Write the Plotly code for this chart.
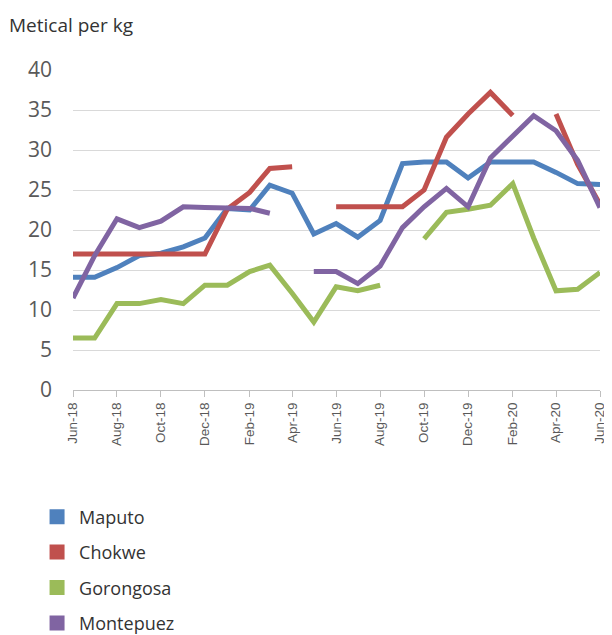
import plotly.graph_objects as go

months = [
    "2018-06-01", "2018-07-01", "2018-08-01", "2018-09-01", "2018-10-01", "2018-11-01",
    "2018-12-01", "2019-01-01", "2019-02-01", "2019-03-01", "2019-04-01", "2019-05-01",
    "2019-06-01", "2019-07-01", "2019-08-01", "2019-09-01", "2019-10-01", "2019-11-01",
    "2019-12-01", "2020-01-01", "2020-02-01", "2020-03-01", "2020-04-01", "2020-05-01",
    "2020-06-01",
]

maputo = [14.1, 14.1, 15.3, 16.8, 17.1, 17.9, 19.0, 22.7, 22.5, 25.6, 24.6, 19.5,
          20.8, 19.1, 21.2, 28.3, 28.5, 28.5, 26.5, 28.5, 28.5, 28.5, 27.2, 25.8, 25.7]
chokwe = [17.0, 17.0, 17.0, 17.0, 17.0, 17.0, 17.0, 22.6, 24.7, 27.7, 27.9, None,
          22.9, 22.9, 22.9, 22.9, 25.0, 31.6, 34.5, 37.2, 34.3, None, 34.5, 28.2, 23.2]
gorongosa = [6.5, 6.5, 10.8, 10.8, 11.3, 10.8, 13.1, 13.1, 14.8, 15.6, 12.1, 8.5,
             12.9, 12.4, 13.1, None, 18.9, 22.2, 22.6, 23.1, 25.8, 19.0, 12.4, 12.6, 14.7]
montepuez = [11.5, 16.8, 21.4, 20.3, 21.1, 22.9, 22.8, 22.8, 22.7, 22.1, None, 14.8,
             14.8, 13.3, 15.5, 20.3, 22.9, 25.2, 22.9, 29.0, 31.8, 34.3, 32.4, 28.7, 22.8]

series = [
    ("Maputo", maputo, "#4F81BD"),
    ("Chokwe", chokwe, "#C0504D"),
    ("Gorongosa", gorongosa, "#9BBB59"),
    ("Montepuez", montepuez, "#8064A2"),
]

fig = go.Figure()

# lines first, no legend entries
for name, vals, color in series:
    fig.add_trace(go.Scatter(
        x=months, y=vals, name=name, mode="lines",
        line=dict(color=color, width=5), connectgaps=False, showlegend=False,
    ))

# square legend keys like the original
for name, vals, color in series:
    fig.add_trace(go.Scatter(
        x=[None], y=[None], name=name, mode="markers", legendgroup=name,
        marker=dict(symbol="square", size=15, color=color),
    ))

# page body has an 8px margin, so the figure is a bit smaller than the window
fig.update_layout(
    width=604, height=627,
    margin=dict(l=65, r=12, t=62, b=245, autoexpand=False),
    plot_bgcolor="white", paper_bgcolor="white",
    font=dict(family="Liberation Sans, Arial, sans-serif", color="#595959"),
    legend=dict(
        x=-0.072, y=-0.339, xanchor="left", yanchor="top",
        font=dict(family="Open Sans, sans-serif", size=18, color="#333333"),
        tracegroupgap=9, itemwidth=34,
    ),
    annotations=[dict(
        text="Metical per kg", xref="paper", yref="paper",
        x=-0.125, y=1.140, xanchor="left", yanchor="middle", showarrow=False,
        font=dict(family="Open Sans, sans-serif", size=19, color="#333333"),
    )],
)

fig.update_xaxes(
    type="date", range=["2018-06-01", "2020-06-01"],
    tickvals=months[::2], tickformat="%b-%y", tickangle=-90,
    ticks="outside", ticklen=6, tickcolor="#bfbfbf",
    showline=True, linecolor="#bfbfbf", linewidth=1,
    showgrid=False, tickfont=dict(size=13.5, color="#595959"),
)
fig.update_yaxes(
    range=[0, 40], dtick=5, showgrid=True, gridcolor="#d9d9d9", gridwidth=1,
    zeroline=False, showline=False, ticks="", ticklabelstandoff=20,
    tickfont=dict(family="Open Sans, sans-serif", size=21, color="#595959"),
)

fig.write_html("out.html")
